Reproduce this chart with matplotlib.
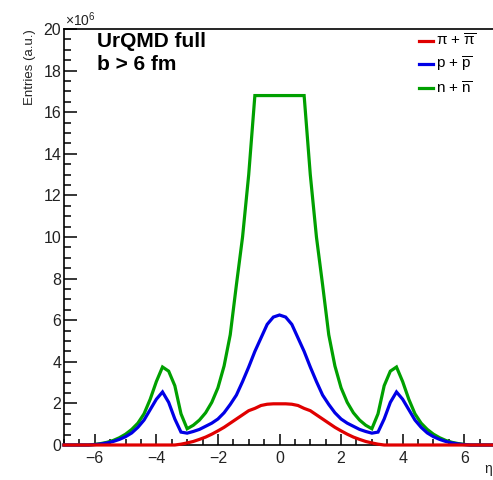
import numpy as np
import matplotlib
matplotlib.use("Agg")
import matplotlib.pyplot as plt
from matplotlib.ticker import MultipleLocator, FuncFormatter

plt.rcParams['font.family'] = ['Liberation Sans', 'DejaVu Sans']
plt.rcParams['mathtext.fontset'] = 'custom'
plt.rcParams['mathtext.rm'] = 'Liberation Sans'
plt.rcParams['mathtext.it'] = 'Liberation Sans'
plt.rcParams['mathtext.bf'] = 'Liberation Sans:bold'

# pseudorapidity bin centres (0.2 wide) and yields in units of 1e6
eta = np.linspace(-7.0, 7.0, 71)

pions = [
    0, 0, 0, 0, 0, 0, 0, 0, 0, 0,
    0, 0, 0, 0, 0, 0, 0, 0, 0, 0.04,
    0.10, 0.17, 0.27, 0.38, 0.52, 0.68, 0.85, 1.05, 1.25, 1.45,
    1.65, 1.76, 1.90, 1.96, 1.98,
    1.98,
    1.98, 1.96, 1.90, 1.76, 1.65,
    1.45, 1.25, 1.05, 0.85, 0.68, 0.52, 0.38, 0.27, 0.17, 0.10,
    0.04, 0, 0, 0, 0, 0, 0, 0, 0, 0,
    0, 0, 0, 0, 0, 0, 0, 0, 0, 0,
]

protons = [
    0, 0, 0, 0, 0, 0.02, 0.05, 0.10, 0.17, 0.27,
    0.40, 0.58, 0.85, 1.20, 1.70, 2.20, 2.55, 2.05, 1.25, 0.62,
    0.57, 0.65, 0.75, 0.90, 1.05, 1.25, 1.55, 1.95, 2.40, 3.05,
    3.75, 4.50, 5.15, 5.80, 6.15,
    6.25,
    6.15, 5.80, 5.15, 4.50, 3.75,
    3.05, 2.40, 1.95, 1.55, 1.25, 1.05, 0.90, 0.75, 0.65, 0.57,
    0.62, 1.25, 2.05, 2.55, 2.20, 1.70, 1.20, 0.85, 0.58, 0.40,
    0.27, 0.17, 0.10, 0.05, 0.02, 0, 0, 0, 0, 0,
]

neutrons = [
    0, 0, 0, 0, 0, 0.03, 0.07, 0.13, 0.22, 0.35,
    0.52, 0.75, 1.05, 1.50, 2.20, 3.05, 3.75, 3.55, 2.85, 1.50,
    0.78, 0.95, 1.20, 1.55, 2.05, 2.75, 3.80, 5.30, 7.70, 10.0,
    13.0, 16.8, 16.8, 16.8, 16.8,
    16.8,
    16.8, 16.8, 16.8, 16.8, 13.0,
    10.0, 7.70, 5.30, 3.80, 2.75, 2.05, 1.55, 1.20, 0.95, 0.78,
    1.50, 2.85, 3.55, 3.75, 3.05, 2.20, 1.50, 1.05, 0.75, 0.52,
    0.35, 0.22, 0.13, 0.07, 0.03, 0, 0, 0, 0, 0,
]

labels = [r'$\pi$ + $\overline{\pi}$', r'p + $\overline{\mathrm{p}}$',
          r'n + $\overline{\mathrm{n}}$']
colors = ['#e00000', '#0000e6', '#00a000']

W, H = 493, 480
fig = plt.figure(figsize=(W / 100, H / 100), dpi=100)
ax = fig.add_axes([64 / W, 35 / H, 431 / W, 416 / H])

lw = 2.3
h_n, = ax.plot(eta, neutrons, color=colors[2], lw=lw, clip_on=False, zorder=3,
               solid_joinstyle='miter')
h_p, = ax.plot(eta, protons, color=colors[1], lw=lw, clip_on=False, zorder=3.1,
               solid_joinstyle='miter')
h_pi, = ax.plot(eta, pions, color=colors[0], lw=lw, clip_on=False, zorder=3.2,
                solid_joinstyle='miter')

ax.set_xlim(-7, 7)
ax.set_ylim(0, 20)
ax.xaxis.set_major_locator(MultipleLocator(2))
ax.xaxis.set_minor_locator(MultipleLocator(0.5))
ax.yaxis.set_major_locator(MultipleLocator(2))
ax.yaxis.set_minor_locator(MultipleLocator(0.5))
ax.tick_params(axis='both', which='both', direction='in', width=1.1,
               color='black', labelsize=11.5, labelcolor='#222222')
ax.tick_params(axis='x', which='major', length=8, pad=4)
ax.tick_params(axis='x', which='minor', length=4)
ax.tick_params(axis='y', which='major', length=9.5, pad=2)
ax.tick_params(axis='y', which='minor', length=5)
ax.xaxis.set_major_formatter(FuncFormatter(
    lambda v, p: f'{v:.0f}'.replace('-', '\u2212')))
ax.yaxis.set_major_formatter(FuncFormatter(lambda v, p: f'{v:.0f}'))
for s in ax.spines.values():
    s.set_linewidth(1.2)
ax.spines['right'].set_visible(False)

fig.text(30 / W, 1 - 29 / H, 'Entries (a.u.)', rotation=90, ha='center',
         va='top', fontsize=9.5, color='#222222')
fig.text(65 / W, 1 - 29 / H, r'$\times10^{6}$', ha='left', va='bottom',
         fontsize=10, color='#222222')
fig.text(492 / W, 1 - 476 / H, '\u03b7', ha='right', va='bottom', fontsize=10,
         color='#222222')

fig.text(97 / W, 1 - 47 / H, 'UrQMD full', ha='left', va='baseline',
         fontsize=15, fontweight='bold')
fig.text(97 / W, 1 - 70 / H, 'b > 6 fm', ha='left', va='baseline',
         fontsize=15, fontweight='bold')

fig.legend([h_pi, h_p, h_n], labels, loc='upper left',
           bbox_to_anchor=(419 / W, 1 - 33 / H), frameon=False,
           fontsize=11, handlelength=0.9, handletextpad=0.2,
           labelspacing=0.4, borderpad=0, borderaxespad=0)

fig.savefig('out.png', dpi=100)
